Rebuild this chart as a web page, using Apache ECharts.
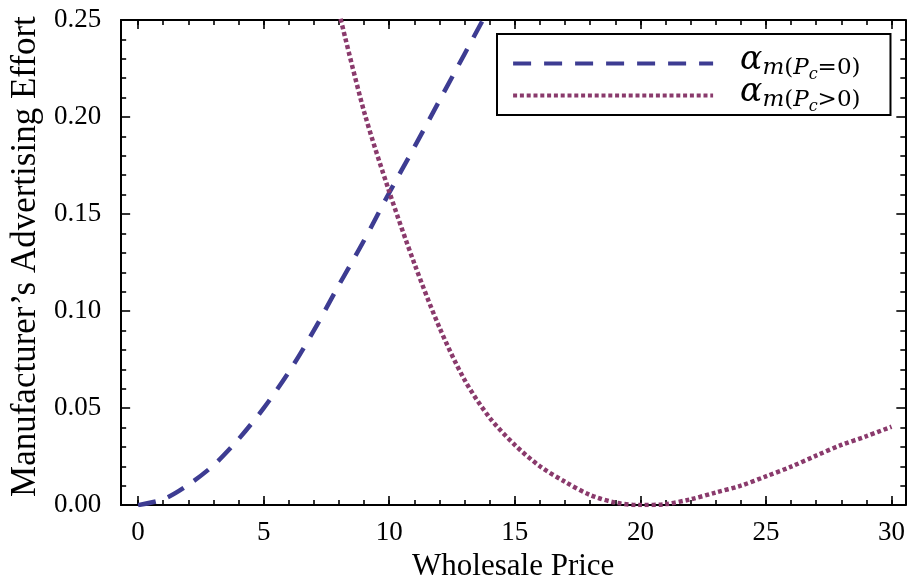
<!DOCTYPE html>
<html>
<head>
<meta charset="utf-8">
<script src="https://cdn.jsdelivr.net/npm/echarts@6/dist/echarts.min.js"></script>
<style>html,body{margin:0;padding:0;background:#fff}#c{width:908px;height:587px}</style>
</head>
<body>
<div id="c"></div>
<script>
// ---- data ----
var blueX = [0, 1, 2, 3, 4, 5, 6, 7, 8, 9, 10, 11, 12, 13, 14];
var blueY = [0, 0.003, 0.0105, 0.0205, 0.034, 0.050, 0.0685, 0.090, 0.1135, 0.1365, 0.161, 0.1845, 0.2085, 0.2325, 0.2565];
var redX = [8, 9, 10, 11, 12, 13, 14, 15, 16, 17, 18, 19, 20, 21, 22, 23, 24, 25, 26, 27, 28, 29, 30];
var redY = [0.254, 0.2027, 0.1615, 0.1245, 0.0915, 0.0645, 0.045, 0.031, 0.020, 0.012, 0.0052, 0.0013, 0, 0.0005, 0.003, 0.0065, 0.010, 0.0148, 0.0198, 0.0255, 0.031, 0.0355, 0.0404];
var xMajorTicks = [0, 5, 10, 15, 20, 25, 30];
var xMinorTicks = [];
for (var i = 0; i <= 30; i++) xMinorTicks.push(i);
var seriesNames = ['a0', 'a1'];

function pairs(xs, ys) { return xs.map(function (x, i) { return [x, ys[i]]; }); }

var FONT = '"Liberation Serif", "DejaVu Serif", serif';
var MFONT = '"DejaVu Serif", "Liberation Serif", serif';
var XMIN = -0.675, XMAX = 30.55;

function xAxisDef(pos, major, labels) {
  return {
    type: 'value', position: pos, min: XMIN, max: XMAX,
    axisLine: { show: true, onZero: false, lineStyle: { color: '#000', width: 2 } },
    axisTick: { show: true, inside: true, length: major ? 9 : 5, customValues: major ? xMajorTicks : xMinorTicks,
                lineStyle: { color: '#000', width: 1.6 } },
    axisLabel: labels ? { show: true, customValues: xMajorTicks, fontFamily: FONT, fontSize: 27, color: '#000', margin: 14 } : { show: false },
    splitLine: { show: false },
    name: labels ? 'Wholesale Price' : '',
    nameLocation: 'middle', nameGap: 36,
    nameTextStyle: { fontFamily: FONT, fontSize: 31, color: '#000' }
  };
}
function yAxisDef(pos, labels) {
  return {
    type: 'value', position: pos, min: 0, max: 0.25, interval: 0.05,
    axisLine: { show: true, onZero: false, lineStyle: { color: '#000', width: 2 } },
    axisTick: { show: true, inside: true, length: 9, lineStyle: { color: '#000', width: 1.6 } },
    minorTick: { show: true, splitNumber: 5, length: 5, lineStyle: { color: '#000', width: 1.6 } },
    axisLabel: labels ? { show: true, fontFamily: FONT, fontSize: 27, color: '#000', margin: 20,
      formatter: function (v) { return v.toFixed(2); } } : { show: false },
    splitLine: { show: false },
    name: labels ? 'Manufacturer\u2019s Advertising Effort' : '',
    nameLocation: 'middle', nameGap: 72,
    nameTextStyle: { fontFamily: FONT, fontSize: 35, color: '#000', padding: [0, 0, 0, 12] }
  };
}

var sub = { fontFamily: MFONT, fontSize: 23, color: '#000', verticalAlign: 'bottom', padding: [0, 0, 3, 0] };
var rich = {
  a: { fontFamily: MFONT, fontStyle: 'italic', fontSize: 33, color: '#000', verticalAlign: 'top', lineHeight: 39 },
  m: Object.assign({}, sub, { fontStyle: 'italic' }),
  n: Object.assign({}, sub),
  c: { fontFamily: MFONT, fontStyle: 'italic', fontSize: 16, color: '#000', verticalAlign: 'bottom', padding: [0, 0, 0, 0] }
};

var chart = echarts.init(document.getElementById('c'), null, { renderer: 'canvas' });
chart.setOption({
  backgroundColor: '#fff',
  animation: false,
  grid: { left: 120, top: 20, right: 2, bottom: 78, show: false },
  xAxis: [xAxisDef('bottom', true, true), xAxisDef('bottom', false, false),
          xAxisDef('top', true, false), xAxisDef('top', false, false)],
  yAxis: [yAxisDef('left', true), yAxisDef('right', false)],
  legend: {
    orient: 'vertical', left: 497, top: 34,
    padding: [10, 30, 0, 14], itemGap: -7,
    itemWidth: 200, itemHeight: 14,
    backgroundColor: '#fff', borderColor: '#000', borderWidth: 2, borderRadius: 0,
    itemStyle: { opacity: 0 },
    lineStyle: { width: 4.2 },
    data: seriesNames,
    formatter: function (name) {
      return name === 'a0'
        ? '{a|\u03B1}{m|m}{n|(}{m|P}{c|c}{n|=0)}'
        : '{a|\u03B1}{m|m}{n|(}{m|P}{c|c}{n|>0)}';
    },
    textStyle: { rich: rich, padding: [0, 0, 0, 22] }
  },
  series: [
    { name: 'a0', type: 'line', xAxisIndex: 0, yAxisIndex: 0, data: pairs(blueX, blueY),
      smooth: 0.3, symbol: 'none', clip: true,
      lineStyle: { color: '#3d3c92', width: 4.5, type: [18, 13] }, itemStyle: { color: '#1f2d7c' } },
    { name: 'a1', type: 'line', xAxisIndex: 0, yAxisIndex: 0, data: pairs(redX, redY),
      smooth: 0.3, symbol: 'none', clip: true,
      lineStyle: { color: '#8a3a6c', width: 4.5, type: [4, 2.8] }, itemStyle: { color: '#8a3a6c' } }
  ]
});
</script>
</body>
</html>
